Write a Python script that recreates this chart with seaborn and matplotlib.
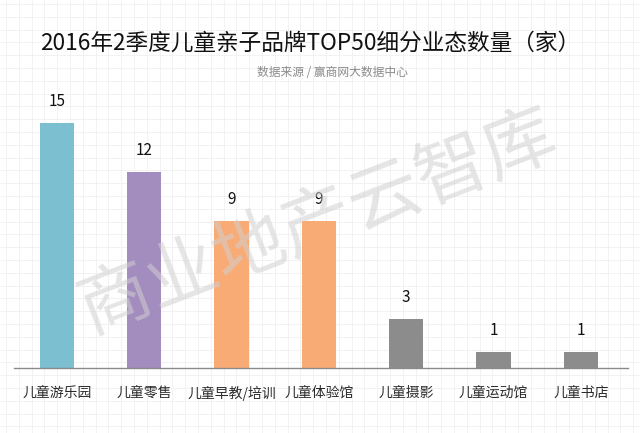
import matplotlib
matplotlib.use("Agg")
import matplotlib.pyplot as plt
import seaborn as sns
import pandas as pd
import numpy as np

categories = ["儿童游乐园", "儿童零售", "儿童早教/培训", "儿童体验馆", "儿童摄影", "儿童运动馆", "儿童书店"]
values = [15, 12, 9, 9, 3, 1, 1]
colors = ["#7BBFD0", "#A38CBE", "#F9AB76", "#F9AB76", "#8C8C8C", "#8C8C8C", "#8C8C8C"]
title = "2016年2季度儿童亲子品牌TOP50细分业态数量（家）"
subtitle = "数据来源 / 赢商网大数据中心"
watermark = "商业地产云智库"

sns.set_theme(style="white")
plt.rcParams['font.family'] = ['Noto Sans CJK SC', 'DejaVu Sans']

W, H = 640, 433
fig = plt.figure(figsize=(W / 100, H / 100), dpi=100)
fig.patch.set_facecolor("white")

# background faint grid texture
bg = fig.add_axes([0, 0, 1, 1], zorder=0)
bg.set_xlim(0, W)
bg.set_ylim(H, 0)
step = 12.8
for x in np.arange(6, W, step):
    bg.axvline(x, color="#f0f0f0", lw=0.6)
for y in np.arange(4, H, step):
    bg.axhline(y, color="#f0f0f0", lw=0.6)
bg.axis("off")

# main axes: baseline at y=368px, left 14px, right 628px
left, right = 14, 628
bottom_px, top_px = 368, 100
ax = fig.add_axes([left / W, 1 - bottom_px / H, (right - left) / W, (bottom_px - top_px) / H], zorder=1)
ax.patch.set_alpha(0)

df = pd.DataFrame({"cat": categories, "val": values})
sns.barplot(data=df, x="cat", y="val", hue="cat", palette=colors, width=0.39,
            legend=False, ax=ax, saturation=1, edgecolor="none")

ax.set_xlim(-0.49, 6.54)
ax.set_ylim(0, (bottom_px - top_px) / 16.35)
ax.set_xlabel("")
ax.set_ylabel("")
ax.set_yticks([])
for s in ["top", "right", "left"]:
    ax.spines[s].set_visible(False)
ax.spines["bottom"].set_color("#8a8a8a")
ax.spines["bottom"].set_linewidth(1.0)
ax.tick_params(axis="x", length=0, pad=13, labelsize=10, labelcolor="#2a2a2a")

for i, v in enumerate(values):
    ax.text(i, v + 0.8, str(v), ha="center", va="bottom", fontsize=11, color="#111111")

fig.text(310 / W, 1 - 43 / H, title, ha="center", va="center", fontsize=16.3, color="#111111")
fig.text(332 / W, 1 - 72 / H, subtitle, ha="center", va="center", fontsize=8.5, color="#8a8a8a")

fig.text(318 / W, 1 - 222 / H, watermark, ha="center", va="center", fontsize=52,
         color="#d0d0d0", alpha=0.55, rotation=21, zorder=5)

fig.savefig("out.png", dpi=100)
